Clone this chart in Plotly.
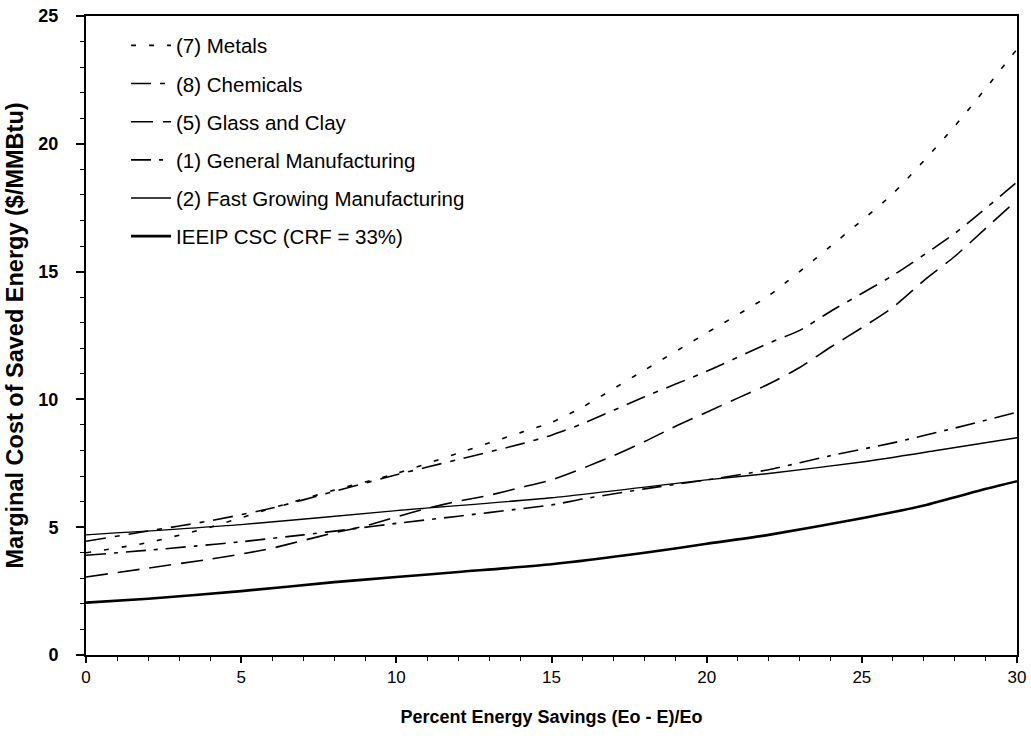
import plotly.graph_objects as go

# Percent energy savings (x) and marginal cost of saved energy ($/MMBtu)
metals_x = [0, 2, 4, 6, 8, 10, 12, 14, 15, 16, 18, 20, 22, 24, 26, 28, 30]
metals_y = [4.0, 4.4, 5.0, 5.75, 6.45, 7.1, 7.9, 8.7, 9.1, 9.7, 11.15, 12.6, 14.06, 16.0, 18.05, 20.7, 23.7]

chem_x = [0, 2, 4, 6, 8, 10, 12, 14, 15, 16, 18, 20, 22, 23, 24, 26, 28, 30]
chem_y = [4.45, 4.85, 5.25, 5.75, 6.4, 7.05, 7.65, 8.25, 8.6, 9.05, 10.1, 11.1, 12.2, 12.7, 13.45, 14.85, 16.5, 18.5]

glass_x = [0, 2, 4, 5, 6, 7, 8, 9, 10, 11, 12, 13, 14, 15, 16, 17, 18, 19, 20, 21, 22, 23, 24, 25, 26, 27, 28, 29, 30]
glass_y = [3.05, 3.4, 3.75, 3.95, 4.18, 4.48, 4.78, 5.05, 5.4, 5.74, 6.02, 6.25, 6.55, 6.85, 7.3, 7.8, 8.35, 8.95, 9.5, 10.05, 10.6, 11.25, 12.05, 12.8, 13.6, 14.65, 15.6, 16.7, 17.8]

general_x = [0, 2, 3.5, 5, 7, 8.5, 10, 12, 14, 15, 16, 18, 20, 22, 24, 26, 28, 30]
general_y = [3.9, 4.1, 4.26, 4.43, 4.7, 4.92, 5.15, 5.43, 5.72, 5.87, 6.1, 6.5, 6.85, 7.25, 7.8, 8.3, 8.88, 9.5]

fast_x = [0, 5, 10, 15, 20, 22, 25, 27.4, 30]
fast_y = [4.7, 5.1, 5.65, 6.15, 6.85, 7.1, 7.55, 8.0, 8.5]

ieeip_x = [0, 2, 5, 8, 10, 12, 15, 18, 20, 22, 25, 27, 29, 30]
ieeip_y = [2.05, 2.2, 2.5, 2.85, 3.05, 3.25, 3.55, 4.0, 4.35, 4.7, 5.35, 5.85, 6.5, 6.8]

x_ticks = [0, 5, 10, 15, 20, 25, 30]
y_ticks = [0, 5, 10, 15, 20, 25]

series = [
    ("(7) Metals", metals_x, metals_y, "5px,13px", 1.6),
    ("(8) Chemicals", chem_x, chem_y, "20px,9px,5px,9px", 1.6),
    ("(5) Glass and Clay", glass_x, glass_y, "22px,10px", 1.6),
    ("(1) General Manufacturing", general_x, general_y, "20px,8px,4px,8px", 1.6),
    ("(2) Fast Growing Manufacturing", fast_x, fast_y, "solid", 1.4),
    ("IEEIP CSC (CRF = 33%)", ieeip_x, ieeip_y, "solid", 2.6),
]

fig = go.Figure()
for i, (name, xs, ys, dash, w) in enumerate(series):
    fig.add_trace(go.Scatter(
        x=xs, y=ys, mode="lines", name=name, legendgroup=f"g{i}",
        line=dict(color="black", width=w, dash=dash, shape="spline", smoothing=0.6),
    ))

font_family = "Liberation Sans, Arial, Helvetica, sans-serif"

fig.update_layout(
    width=1031, height=742,
    margin=dict(l=86, r=14, t=16, b=87),
    paper_bgcolor="white", plot_bgcolor="white",
    font=dict(family=font_family, color="black", size=16),
    showlegend=True,
    legend=dict(
        x=0.043, y=0.985, xanchor="left", yanchor="top",
        bgcolor="rgba(0,0,0,0)", borderwidth=0,
        font=dict(size=20.5, family=font_family, color="black"),
        tracegroupgap=8.5, itemwidth=40,
    ),
    xaxis=dict(
        range=[0, 30], tickmode="array", tickvals=x_ticks,
        ticks="outside", ticklen=6, tickwidth=1.5, tickcolor="black",
        minor=dict(dtick=1, ticks="outside", ticklen=4, tickwidth=1, tickcolor="black"),
        showline=True, linecolor="black", linewidth=2, mirror=True,
        showgrid=False, zeroline=False, automargin=False,
        ticklabeloverflow="allow",
        tickfont=dict(size=17, family=font_family),
        title=dict(text="<b>Percent Energy Savings (Eo - E)/Eo</b>", font=dict(size=18), standoff=24),
    ),
    yaxis=dict(
        range=[0, 25], tickmode="array", tickvals=y_ticks,
        ticktext=[f"<b>{v}</b>" for v in y_ticks],
        ticks="outside", ticklen=8, tickwidth=1.5, tickcolor="black",
        minor=dict(dtick=1, ticks="outside", ticklen=4, tickwidth=1, tickcolor="black"),
        showline=True, linecolor="black", linewidth=2, mirror=True,
        showgrid=False, zeroline=False, automargin=False,
        ticklabelstandoff=14, ticklabeloverflow="allow",
        tickfont=dict(size=18, family=font_family),
        title=dict(text="<b>Marginal Cost of Saved Energy ($/MMBtu)</b>", font=dict(size=23.5), standoff=8),
    ),
)

# remove the default page margin so the figure fills the window exactly
fig.write_html(
    "out.html",
    config={"displayModeBar": False},
    post_script="document.body.style.margin='0';",
)
